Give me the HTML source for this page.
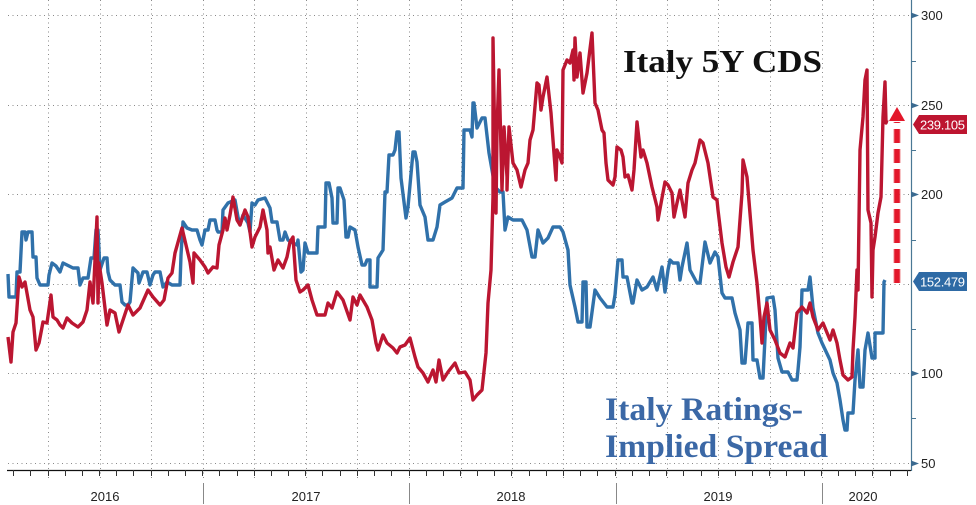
<!DOCTYPE html>
<html><head><meta charset="utf-8"><style>
html,body{margin:0;padding:0;background:#fff;}
svg{display:block;}
</style></head><body>
<svg width="976" height="505" viewBox="0 0 976 505" xmlns="http://www.w3.org/2000/svg">
<rect width="976" height="505" fill="#fff"/>
<g stroke="#8a8a8a" stroke-width="1" stroke-dasharray="1 3.5" fill="none">
<path d="M8 15.5H911M8 105.5H911M8 194.5H911M8 284.5H911M8 373.5H911M8 463.5H911"/>
<path d="M48.5 0V478M100.5 0V478M151.5 0V478M203.5 0V478M254.5 0V478M306.5 0V478M357.5 0V478M409.5 0V478M461.5 0V478M512.5 0V478M563.5 0V478M616.5 0V478M667.5 0V478M718.5 0V478M770.5 0V478M822.5 0V478M873.5 0V478"/>
</g>
<path d="M7 470.5H911" stroke="#111" stroke-width="1.3"/>
<path stroke="#333" stroke-width="1" d="M13.5 470V476M30.5 470V476M48.5 470V476M65.5 470V476M82.5 470V476M99.5 470V476M116.5 470V476M133.5 470V476M151.5 470V476M168.5 470V476M185.5 470V476M202.5 470V476M219.5 470V476M237.5 470V476M254.5 470V476M271.5 470V476M288.5 470V476M305.5 470V476M322.5 470V476M340.5 470V476M357.5 470V476M374.5 470V476M391.5 470V476M409.5 470V476M426.5 470V476M443.5 470V476M460.5 470V476M477.5 470V476M494.5 470V476M511.5 470V476M529.5 470V476M546.5 470V476M563.5 470V476M580.5 470V476M597.5 470V476M615.5 470V476M632.5 470V476M649.5 470V476M666.5 470V476M683.5 470V476M701.5 470V476M718.5 470V476M735.5 470V476M752.5 470V476M769.5 470V476M786.5 470V476M804.5 470V476M821.5 470V476M838.5 470V476M855.5 470V476M872.5 470V476M890.5 470V476M907.5 470V476"/>
<path stroke="#888" stroke-width="1" d="M203.5 483V504M409.5 483V504M616.5 483V504M822.5 483V504"/>
<g font-family="Liberation Sans, sans-serif" font-size="13" fill="#222" text-anchor="middle">
<text x="105" y="501">2016</text>
<text x="306" y="501">2017</text>
<text x="511" y="501">2018</text>
<text x="718" y="501">2019</text>
<text x="863" y="501">2020</text>
</g>
<path d="M911.5 0V471" stroke="#4a7895" stroke-width="1.2"/>
<path stroke="#4a7895" stroke-width="1" d="M911 61.5H916M911 150.5H916M911 240.5H916M911 329.5H916M911 418.5H916"/>
<g fill="#3a6a90">
<path d="M911 12.5L919 15.5L911 18.5Z"/>
<path d="M911 102.5L919 105.5L911 108.5Z"/>
<path d="M911 191.5L919 194.5L911 197.5Z"/>
<path d="M911 370.5L919 373.5L911 376.5Z"/>
<path d="M911 460.5L919 463.5L911 466.5Z"/>
</g>
<g font-family="Liberation Sans, sans-serif" font-size="13" fill="#222">
<text x="921" y="20">300</text>
<text x="921" y="110">250</text>
<text x="921" y="199">200</text>
<text x="921" y="378">100</text>
<text x="921" y="468">50</text>
</g>
<polyline fill="none" stroke="#3071aa" stroke-width="3.4" stroke-linejoin="round" points="8,274 9,297 16,297 17,272 20,272 22,232 25,232 26,240 28,232 32,232 33,257 36,257 37,278 40,285 48,285 49,275 52,263 56,266 60,272 63,263 67,265 73,268 78,268 80,285 83,278 88,278 91,258 94,258 96,230 98,230 100,270 104,258 107,258 108,272 110,280 115,285 120,285 122,302 125,305 128,305 130,302 133,268 138,273 139,283 143,272 147,272 150,285 153,275 155,272 160,272 163,287 167,282 172,285 180,285 181,255 183,222 187,228 192,230 197,230 200,240 202,245 205,230 208,230 210,220 215,220 217,230 218,232 222,232 223,210 228,203 235,200 238,217 240,225 243,215 248,223 250,232 252,203 255,205 258,200 265,198 270,208 272,222 277,222 280,240 283,240 285,232 288,240 293,243 297,245 298,240 301,272 303,270 305,243 308,253 317,253 318,227 325,227 326,183 329,183 332,198 333,223 337,223 338,188 340,188 344,200 346,237 348,237 350,227 355,230 358,247 362,265 365,265 367,260 370,260 370,287 377,287 378,258 383,250 385,192 387,192 389,155 393,155 395,150 397,132 399,132 401,178 406,218 408,207 413,152 415,152 417,162 420,205 425,217 428,240 433,240 437,227 440,205 445,202 452,198 457,188 463,188 464,130 470,130 472,137 473,103 474,103 477,128 482,118 485,118 489,153 495,187 500,192 503,192 505,230 508,217 513,220 522,220 527,230 532,257 535,257 538,230 543,243 548,238 553,227 560,227 563,232 568,250 570,285 575,307 578,322 582,322 583,282 586,282 587,327 590,327 595,290 600,298 607,307 613,307 615,295 618,260 622,260 623,277 627,277 632,303 633,303 637,280 642,290 647,287 653,277 657,290 662,267 665,292 668,270 670,260 673,263 678,263 680,280 682,267 687,243 690,270 697,283 700,283 705,242 710,263 715,252 718,257 722,293 725,298 732,298 735,313 740,330 742,363 745,363 748,323 752,323 753,360 757,360 760,378 763,378 767,298 773,297 775,310 778,358 782,372 788,372 792,380 797,380 798,370 800,347 802,290 808,290 810,277 813,308 818,333 822,343 830,360 833,373 837,383 840,400 843,420 845,430 847,430 848,413 853,413 855,380 858,350 860,387 863,387 865,350 868,333 872,358 875,358 875,333 883,333 884,282 885,280"/>
<polyline fill="none" stroke="#bb1631" stroke-width="3.4" stroke-linejoin="round" points="8,337 11,362 13,332 16,323 19,277 22,287 25,282 30,310 33,317 36,350 39,343 43,322 47,323 51,295 53,317 57,320 60,325 63,328 67,318 72,323 78,327 83,322 87,310 90,282 93,303 97,217 98,303 99,263 102,283 107,325 110,310 115,313 119,332 123,320 128,305 133,315 140,308 148,290 153,297 160,305 164,300 168,278 172,273 175,253 182,228 186,245 190,262 193,283 194,253 200,260 205,267 208,273 213,267 217,268 219,245 223,230 225,218 227,230 230,215 233,197 237,220 240,225 245,210 248,217 252,247 255,237 260,227 263,210 267,230 268,253 270,247 274,270 278,260 283,268 287,257 290,242 293,237 296,280 300,292 303,290 308,285 312,300 317,315 325,315 328,303 332,308 337,292 343,300 350,320 353,297 357,305 360,295 367,307 372,320 376,343 378,350 383,335 387,343 393,348 397,353 400,347 405,345 410,338 415,357 418,367 423,373 428,382 433,370 436,382 439,360 443,380 448,372 455,363 459,373 465,372 470,380 473,400 477,395 482,390 486,353 488,303 491,270 493,197 493,38 496,213 497,130 499,70 502,190 504,127 507,177 507,190 509,127 513,163 517,170 521,187 525,170 528,163 530,140 533,130 537,83 539,85 541,110 543,97 547,77 551,113 553,140 556,180 557,150 560,157 562,163 563,70 567,60 570,63 573,50 574,80 575,38 577,77 580,53 583,93 587,73 592,33 595,103 598,110 602,130 604,133 606,163 608,180 613,185 615,177 617,147 621,150 623,157 625,177 628,175 632,190 634,170 637,122 641,157 643,150 647,163 652,187 657,207 658,220 662,198 665,182 668,185 672,193 674,217 677,203 680,190 685,217 688,183 692,170 695,163 700,140 703,143 708,163 713,197 717,200 718,210 722,243 726,267 729,277 733,262 738,247 742,193 743,160 747,177 753,250 757,283 760,317 762,343 764,317 767,303 770,330 775,340 780,353 785,357 790,343 793,348 797,313 802,307 807,313 810,303 813,317 818,330 823,323 830,340 833,330 837,343 840,360 843,375 848,380 852,377 853,350 855,317 857,270 858,290 860,150 863,117 865,80 867,70 868,210 871,223 872,297 873,250 875,237 878,213 881,197 883,117 885,82 886,123 887,120"/>
<path d="M913 124.5L919 115H967V134H919Z" fill="#bd1530"/>
<text x="920" y="129.5" font-family="Liberation Sans, sans-serif" font-size="13" fill="#fff" textLength="45">239.105</text>
<path d="M913 281.5L919 272H967V291H919Z" fill="#2e6aa5"/>
<text x="920" y="286.5" font-family="Liberation Sans, sans-serif" font-size="13" fill="#fff" textLength="45">152.479</text>
<path d="M897 283V122" stroke="#f08a8f" stroke-width="8" stroke-dasharray="14 6" opacity="0.5"/>
<path d="M897 283V122" stroke="#e3172a" stroke-width="5.5" stroke-dasharray="14 6"/>
<path d="M889 121L897 107L905 121Z" fill="#e3172a"/>
<text x="623" y="72" font-family="Liberation Serif, serif" font-weight="bold" font-size="32" fill="#111" textLength="199" lengthAdjust="spacingAndGlyphs">Italy 5Y CDS</text>
<text x="605" y="420" font-family="Liberation Serif, serif" font-weight="bold" font-size="33" fill="#3b68a6" textLength="198" lengthAdjust="spacingAndGlyphs">Italy Ratings-</text>
<text x="605" y="457" font-family="Liberation Serif, serif" font-weight="bold" font-size="33" fill="#3b68a6" textLength="223" lengthAdjust="spacingAndGlyphs">Implied Spread</text>
</svg>
</body></html>
